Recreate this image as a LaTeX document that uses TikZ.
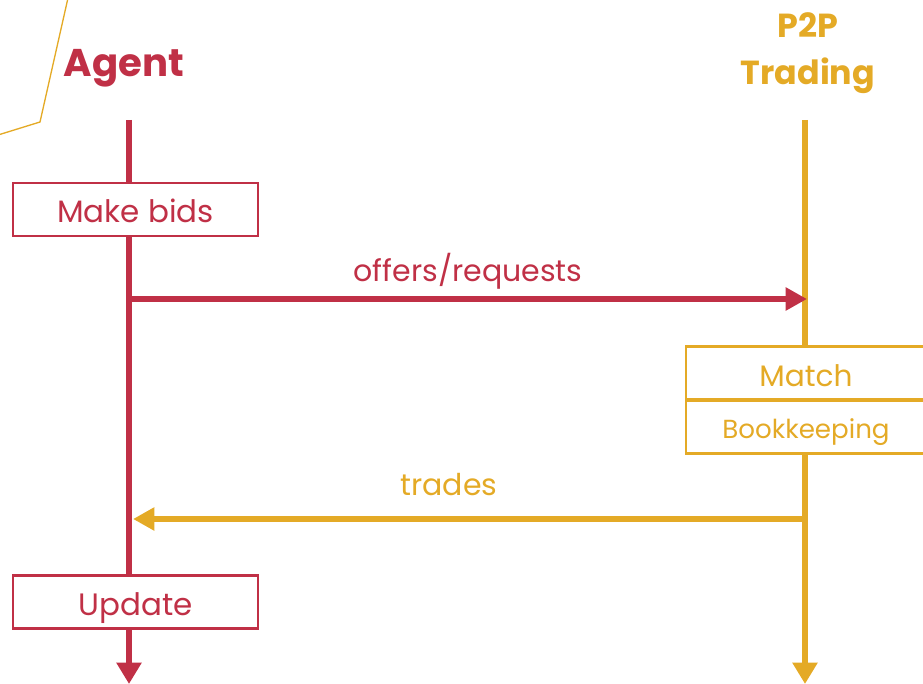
\documentclass[tikz,border=0pt]{standalone}
\usepackage{fontspec}
\setmainfont{Poppins}
\usetikzlibrary{arrows.meta}

\definecolor{agentred}{RGB}{192,48,70}
\definecolor{tradeyel}{RGB}{228,170,38}

\begin{document}
\begin{tikzpicture}[x=0.75pt,y=-0.75pt,
    lifeline/.style={line width=4pt,-{Triangle[length=16pt,width=18pt]}},
    msg/.style={line width=4pt,-{Triangle[length=16pt,width=16.5pt]}},
    actbox/.style={draw=#1,text=#1,fill=white,line width=1.8pt,minimum width=183.75pt,minimum height=40pt,inner sep=0pt,text height=19.5pt,text depth=0pt}]
            \useasboundingbox (0,0) rectangle (923,684);
            % corner line
            \draw[tradeyel, line width=1pt] (68,-2) -- (40,122) -- (-2,135);

            % Agent
            \node[text=agentred, font=\bfseries\fontsize{29}{32}\selectfont] (agent) at (124,68) {Agent};
            \coordinate (a0) at (129,120);
            \coordinate (a1) at (129,684);
            \draw[lifeline, agentred] (a0) -- (a1);

            % P2P Trading
            \node[text=tradeyel, font=\bfseries\fontsize{25}{28}\selectfont] (p2p) at (808,25) {P2P};
            \node[text=tradeyel, font=\bfseries\fontsize{25}{28}\selectfont] (trading) at (808,76) {Trading};
            \coordinate (t0) at (805,120);
            \coordinate (t1) at (805,684);
            \draw[lifeline, tradeyel] (t0) -- (t1);

            % Boxes
            \node[actbox=agentred, font=\fontsize{23.2}{26}\selectfont] (bids) at (135.5,209.5) {Make bids};
            \node[actbox=agentred, font=\fontsize{23.2}{26}\selectfont] (update) at (135.5,602) {Update};
            \node[actbox=tradeyel, minimum width=180pt, font=\fontsize{22.2}{26}\selectfont] (match) at (806,373) {Match};
            \node[actbox=tradeyel, minimum width=180pt, text height=16.5pt, font=\fontsize{19.6}{22}\selectfont] (book) at (806,427) {Bookkeeping};

            % Messages
            \coordinate (o1) at (129,299);
            \coordinate (o2) at (807,299);
            \draw[msg, agentred] (o1) -- (o2) node[midway, above=2pt, font=\fontsize{22.5}{26}\selectfont] {offers/requests};
            \coordinate (r1) at (805,519);
            \coordinate (r2) at (133,519);
            \draw[msg, tradeyel] (r1) -- (r2) node[pos=0.53, above=12pt, font=\fontsize{22.5}{26}\selectfont] {trades};
\end{tikzpicture}
\end{document}
